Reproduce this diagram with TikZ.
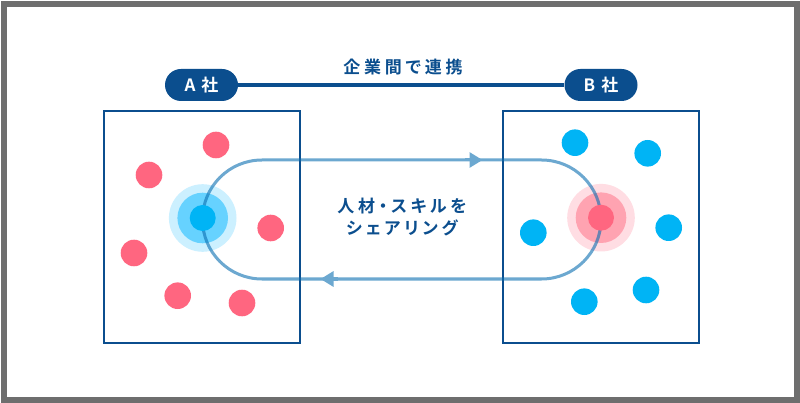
\documentclass[tikz,border=0pt]{standalone}
\usepackage{fontspec}
\newfontfamily\jp{Noto Sans CJK JP}[BoldFont={Noto Sans CJK JP Bold}, RawFeature=+palt]
\usetikzlibrary{arrows.meta}
\definecolor{navy}{HTML}{0B4E8E}
\definecolor{dotred}{HTML}{FF6680}
\definecolor{dotblue}{HTML}{00B4F5}
\definecolor{bluemid}{HTML}{66D2FF}
\definecolor{blueout}{HTML}{CCF0FF}
\definecolor{redmid}{HTML}{FFA3B1}
\definecolor{redout}{HTML}{FFDDE3}
\definecolor{loopc}{RGB}{10,110,177}
\definecolor{loopsolid}{RGB}{108,168,208}
\definecolor{framegray}{HTML}{6E6E6E}
\begin{document}
\begin{tikzpicture}[x=1pt,y=-1pt,
  company/.style={draw=navy, line width=2.5pt, minimum width=196pt, minimum height=232pt, inner sep=0pt},
  pill/.style={fill=navy, rounded corners=16pt, minimum width=73pt, minimum height=32pt, text=white, inner sep=0pt, font=\jp\bfseries\fontsize{17}{17}\selectfont},
  rdot/.style={circle, fill=dotred, minimum size=26.6pt, inner sep=0pt},
  bdot/.style={circle, fill=dotblue, minimum size=26.6pt, inner sep=0pt},
  halo/.style={circle, minimum size=#1, inner sep=0pt},
  lbl/.style={text=navy, align=center, inner sep=0pt},
  tipline/.style={loopsolid, line width=3pt, -{Triangle[length=13pt,width=15pt]}}
  ]
\useasboundingbox (0,0) rectangle (800,403);
\fill[white] (0,0) rectangle (800,403);
\draw[framegray, line width=6pt] (4,4.5) rectangle (796.5,399.5);

% companies
\node[company] (boxA) at (202,227) {};
\node[company] (boxB) at (601,227) {};

% pills and link
\node[pill] (pA) at (201.5,85) {A\hspace{6pt}社};
\node[pill] (pB) at (601,85) {B\hspace{6pt}社};
\draw[navy, line width=3.5pt] (pA) -- (pB);
\node[lbl, font=\jp\bfseries\fontsize{17}{20}\selectfont\addfontfeatures{LetterSpace=22}] (title) at (403,67) {企業間で連携};

% A dots
\node[rdot] (a1) at (216,145) {};
\node[rdot] (a2) at (149,175) {};
\node[rdot] (a3) at (270.7,228) {};
\node[rdot] (a4) at (134,253) {};
\node[rdot] (a5) at (177.7,295.7) {};
\node[rdot] (a6) at (242,303) {};
\node[halo=67.6pt, fill=blueout] (hAo) at (202.7,218) {};
\node[halo=50.6pt, fill=bluemid] (hAm) at (202.7,218) {};

% B dots
\node[bdot] (b1) at (575,142.7) {};
\node[bdot] (b2) at (647.7,153.3) {};
\node[bdot] (b3) at (533.3,232.7) {};
\node[bdot] (b4) at (668.7,227.7) {};
\node[bdot] (b5) at (584.3,301.7) {};
\node[bdot] (b6) at (646,290) {};
\node[halo=67.6pt, fill=redout] (hBo) at (601,217.7) {};
\node[halo=50.6pt, fill=redmid] (hBm) at (601,217.7) {};

% sharing loop
\coordinate (loopTL) at (202.5,160);
\coordinate (loopBR) at (601,279);
\draw[loopc, opacity=0.6, line width=3pt, rounded corners=59.5pt] (loopTL) rectangle (loopBR);
\coordinate (t1s) at (465,160);
\coordinate (t1e) at (482.5,160);
\coordinate (t2s) at (338,279);
\coordinate (t2e) at (320.5,279);
\draw[tipline] (t1s) -- (t1e);
\draw[tipline] (t2s) -- (t2e);

% core persons on top of the loop
\node[halo=26pt, fill=dotblue] (hA) at (202.7,218) {};
\node[halo=26pt, fill=dotred] (hB) at (601,217.7) {};

\node[lbl, font=\jp\bfseries\fontsize{17}{22}\selectfont\addfontfeatures{LetterSpace=22}] (share) at (402,217.5) {人材・スキルを\\シェアリング};
\end{tikzpicture}
\end{document}
